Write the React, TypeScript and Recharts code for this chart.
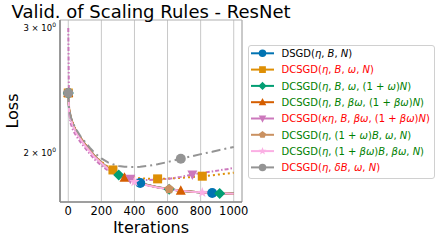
import { LineChart, Line, XAxis, YAxis, CartesianGrid, ReferenceArea, Label } from 'recharts';

const iterations = [0, 5, 15, 30, 50, 75, 100, 130, 160, 200, 240, 270, 305, 340, 375, 400, 435, 480, 540, 610, 680, 750, 810, 870, 915, 960, 1000];

const dsgd = [2.43, 2.3, 2.24, 2.19, 2.14, 2.1, 2.06, 2.02, 1.98, 1.94, 1.905, 1.885, 1.865, 1.848, 1.834, 1.826, 1.815, 1.803, 1.79, 1.779, 1.77, 1.764, 1.76, 1.757, 1.756, 1.755, 1.754];
const dcsgdBase = [2.43, 2.3, 2.24, 2.19, 2.14, 2.1, 2.06, 2.02, 1.98, 1.945, 1.912, 1.893, 1.876, 1.863, 1.853, 1.848, 1.843, 1.84, 1.839, 1.841, 1.845, 1.85, 1.855, 1.861, 1.866, 1.871, 1.876];
const dcsgdN = [2.43, 2.29, 2.235, 2.185, 2.14, 2.095, 2.055, 2.015, 1.975, 1.935, 1.9, 1.88, 1.862, 1.846, 1.833, 1.825, 1.814, 1.802, 1.789, 1.778, 1.769, 1.763, 1.759, 1.756, 1.754, 1.754, 1.753];
const dcsgdBetaN = [2.43, 2.31, 2.245, 2.19, 2.14, 2.1, 2.058, 2.017, 1.977, 1.937, 1.902, 1.882, 1.863, 1.846, 1.832, 1.824, 1.813, 1.801, 1.789, 1.778, 1.77, 1.764, 1.76, 1.757, 1.755, 1.754, 1.753];
const dcsgdKappa = [3.0, 2.28, 2.2, 2.15, 2.11, 2.07, 2.035, 1.995, 1.958, 1.92, 1.89, 1.872, 1.858, 1.847, 1.84, 1.836, 1.833, 1.832, 1.834, 1.84, 1.851, 1.865, 1.875, 1.884, 1.891, 1.898, 1.905];
const dcsgdB = [2.43, 2.3, 2.24, 2.19, 2.142, 2.1, 2.06, 2.02, 1.98, 1.94, 1.905, 1.884, 1.864, 1.848, 1.834, 1.826, 1.815, 1.803, 1.79, 1.779, 1.77, 1.764, 1.76, 1.757, 1.756, 1.755, 1.754];
const dcsgdBetaB = [2.43, 2.29, 2.23, 2.18, 2.13, 2.09, 2.05, 2.01, 1.972, 1.935, 1.9, 1.88, 1.86, 1.843, 1.83, 1.822, 1.812, 1.8, 1.788, 1.777, 1.769, 1.763, 1.759, 1.756, 1.755, 1.754, 1.753];
const dcsgdDelta = [2.43, 2.31, 2.25, 2.2, 2.155, 2.11, 2.075, 2.035, 2.0, 1.965, 1.94, 1.928, 1.918, 1.913, 1.911, 1.911, 1.913, 1.918, 1.928, 1.945, 1.963, 1.98, 1.995, 2.008, 2.02, 2.03, 2.04];

const xTicks = [0, 200, 400, 600, 800, 1000];
const yTicks = [2, 3];

const data = iterations.map((iter, i) => ({
    iter,
    dsgd: dsgd[i],
    dcsgdBase: dcsgdBase[i],
    dcsgdN: dcsgdN[i],
    dcsgdBetaN: dcsgdBetaN[i],
    dcsgdKappa: dcsgdKappa[i],
    dcsgdB: dcsgdB[i],
    dcsgdBetaB: dcsgdBetaB[i],
    dcsgdDelta: dcsgdDelta[i],
}));

const RED = '#ff0000';
const GREEN = '#008000';

const series = [
    { key: 'dsgd', label: 'DSGD(η, B, N)', color: '#0173b2', text: '#000', shape: 'circle', dash: undefined, marks: [0, 435, 870] },
    { key: 'dcsgdBase', label: 'DCSGD(η, B, ω, N)', color: '#de8f05', text: RED, shape: 'square', dash: '2 3', marks: [0, 270, 540, 810] },
    { key: 'dcsgdN', label: 'DCSGD(η, B, ω, (1 + ω)N)', color: '#029e73', text: GREEN, shape: 'diamond', dash: undefined, marks: [0, 305, 610, 915] },
    { key: 'dcsgdBetaN', label: 'DCSGD(η, B, βω, (1 + βω)N)', color: '#d55e00', text: GREEN, shape: 'triUp', dash: undefined, marks: [0, 340, 680] },
    { key: 'dcsgdKappa', label: 'DCSGD(κη, B, βω, (1 + βω)N)', color: '#cc78bc', text: RED, shape: 'triDown', dash: '4 2 1.5 2', marks: [375, 750] },
    { key: 'dcsgdB', label: 'DCSGD(η, (1 + ω)B, ω, N)', color: '#ca9161', text: GREEN, shape: 'pentagon', dash: undefined, marks: [0, 610] },
    { key: 'dcsgdBetaB', label: 'DCSGD(η, (1 + βω)B, βω, N)', color: '#fbafe4', text: GREEN, shape: 'star', dash: undefined, marks: [0, 400, 810] },
    { key: 'dcsgdDelta', label: 'DCSGD(η, δB, ω, N)', color: '#949494', text: RED, shape: 'circle', dash: '9 4 2 4', marks: [0, 680] },
];

function regular(x: number, y: number, r: number, n: number, inner?: number) {
    const pts: string[] = [];
    const count = inner ? n * 2 : n;
    for (let k = 0; k < count; k++) {
        const a = -Math.PI / 2 + (k * 2 * Math.PI) / count;
        const rr = inner && k % 2 === 1 ? inner : r;
        pts.push(`${x + rr * Math.cos(a)},${y + rr * Math.sin(a)}`);
    }
    return pts.join(' ');
}

function Marker({ shape, x, y, s, color }: { shape: string; x: number; y: number; s: number; color: string }) {
    const r = s / 2;
    switch (shape) {
        case 'circle':
            return <circle cx={x} cy={y} r={r} fill={color} />;
        case 'square':
            return <rect x={x - r * 0.9} y={y - r * 0.9} width={s * 0.9} height={s * 0.9} fill={color} />;
        case 'diamond':
            return <polygon points={`${x},${y - r * 1.1} ${x + r * 1.1},${y} ${x},${y + r * 1.1} ${x - r * 1.1},${y}`} fill={color} />;
        case 'triUp':
            return <polygon points={`${x},${y - r * 1.1} ${x + r},${y + r * 0.8} ${x - r},${y + r * 0.8}`} fill={color} />;
        case 'triDown':
            return <polygon points={`${x},${y + r * 1.1} ${x + r},${y - r * 0.8} ${x - r},${y - r * 0.8}`} fill={color} />;
        case 'pentagon':
            return <polygon points={regular(x, y, r, 5)} fill={color} />;
        case 'star':
            return <polygon points={regular(x, y, r * 1.1, 5, r * 0.45)} fill={color} />;
        default:
            return null;
    }
}

const makeDot = (shape: string, color: string, marks: number[]) => (props: any) => {
    const { cx, cy, payload, index } = props;
    if (!payload || !marks.includes(payload.iter) || cx == null || cy == null) {
        return <g key={`d-${index}`} />;
    }
    return (
        <g key={`d-${index}`}>
            <Marker shape={shape} x={cx} y={cy} s={10} color={color} />
        </g>
    );
};

// matplotlib mathtext style: letters in the argument list are italic
function MathLabel({ label, x, y, color }: { label: string; x: number; y: number; color: string }) {
    const open = label.indexOf('(');
    const head = label.slice(0, open);
    const rest = label.slice(open);
    const parts: { t: string; it: boolean }[] = [];
    for (const ch of rest) {
        const it = /[A-Za-zα-ω]/.test(ch);
        const last = parts[parts.length - 1];
        if (last && last.it === it) last.t += ch;
        else parts.push({ t: ch, it });
    }
    return (
        <text x={x} y={y} fill={color} fontSize={10} fontFamily="DejaVu Sans">
            <tspan>{head}</tspan>
            {parts.map((p, i) => (
                <tspan key={i} fontStyle={p.it ? 'italic' : 'normal'}>{p.t}</tspan>
            ))}
        </text>
    );
}

const YTick = (props: any) => {
    const { y, payload } = props;
    return (
        <text x={56} y={y + 3} textAnchor="end" fontSize={8.5} fill="#000" fontFamily="DejaVu Sans">
            {payload.value} × 10
            <tspan dy={-4} fontSize={6}>0</tspan>
        </text>
    );
};

export default function App() {
    return (
        <div style={{ position: 'fixed', left: 0, top: 0, width: 440, height: 241, background: '#fff', fontFamily: 'DejaVu Sans' }}>
            <LineChart width={440} height={241} data={data} margin={{ top: 20, right: 198, bottom: 8, left: 10 }}>
                <CartesianGrid horizontal={false} stroke="#c8c8c8" strokeWidth={1} />
                <ReferenceArea x1={-50} x2={1050} y1={1.706} y2={3.08} fill="none" stroke="#b0b0b0" strokeWidth={1} ifOverflow="extendDomain" />
                <XAxis
                    dataKey="iter"
                    type="number"
                    domain={[-50, 1050]}
                    ticks={xTicks}
                    allowDataOverflow
                    height={31}
                    tickSize={0}
                    tickMargin={5}
                    axisLine={{ stroke: '#8c8c8c', strokeWidth: 1.6 }}
                    tickLine={false}
                    tick={{ fontSize: 11.5, fill: '#000', fontFamily: 'DejaVu Sans' }}
                >
                    <Label value="Iterations" position="insideBottom" offset={0} style={{ fontSize: 16, fill: '#000', fontFamily: 'DejaVu Sans' }} />
                </XAxis>
                <YAxis
                    type="number"
                    scale="log"
                    domain={[1.706, 3.08]}
                    allowDataOverflow
                    ticks={yTicks}
                    width={50}
                    tickSize={0}
                    tickLine={false}
                    axisLine={{ stroke: '#8c8c8c', strokeWidth: 1.6 }}
                    tick={<YTick />}
                >
                    <Label
                        content={() => (
                            <text transform="translate(18,111) rotate(-90)" textAnchor="middle" fontSize={16} fill="#000" fontFamily="DejaVu Sans">
                                Loss
                            </text>
                        )}
                    />
                </YAxis>
                {series.map((s) => (
                    <Line
                        key={s.key}
                        dataKey={s.key}
                        type="linear"
                        stroke={s.color}
                        strokeWidth={2}
                        strokeDasharray={s.dash}
                        dot={makeDot(s.shape, s.color, s.marks)}
                        activeDot={false}
                        isAnimationActive={false}
                    />
                ))}
            </LineChart>
            <svg width={440} height={241} style={{ position: 'absolute', left: 0, top: 0, pointerEvents: 'none' }}>
                <text x={151} y={18} textAnchor="middle" fontSize={18} fill="#000" fontFamily="DejaVu Sans">
                    Valid. of Scaling Rules - ResNet
                </text>
                <rect x={248.5} y={45.5} width={186} height={133} rx={2.5} fill="#fff" fillOpacity={0.8} stroke="#d0d0d0" />
                {series.map((s, i) => {
                    const cy = 53.3 + i * 16.3;
                    return (
                        <g key={s.key}>
                            <line x1={251} x2={274} y1={cy} y2={cy} stroke={s.color} strokeWidth={2} />
                            <Marker shape={s.shape} x={262.5} y={cy} s={7.5} color={s.color} />
                            <MathLabel label={s.label} x={281.5} y={cy + 3.7} color={s.text} />
                        </g>
                    );
                })}
            </svg>
        </div>
    );
}
